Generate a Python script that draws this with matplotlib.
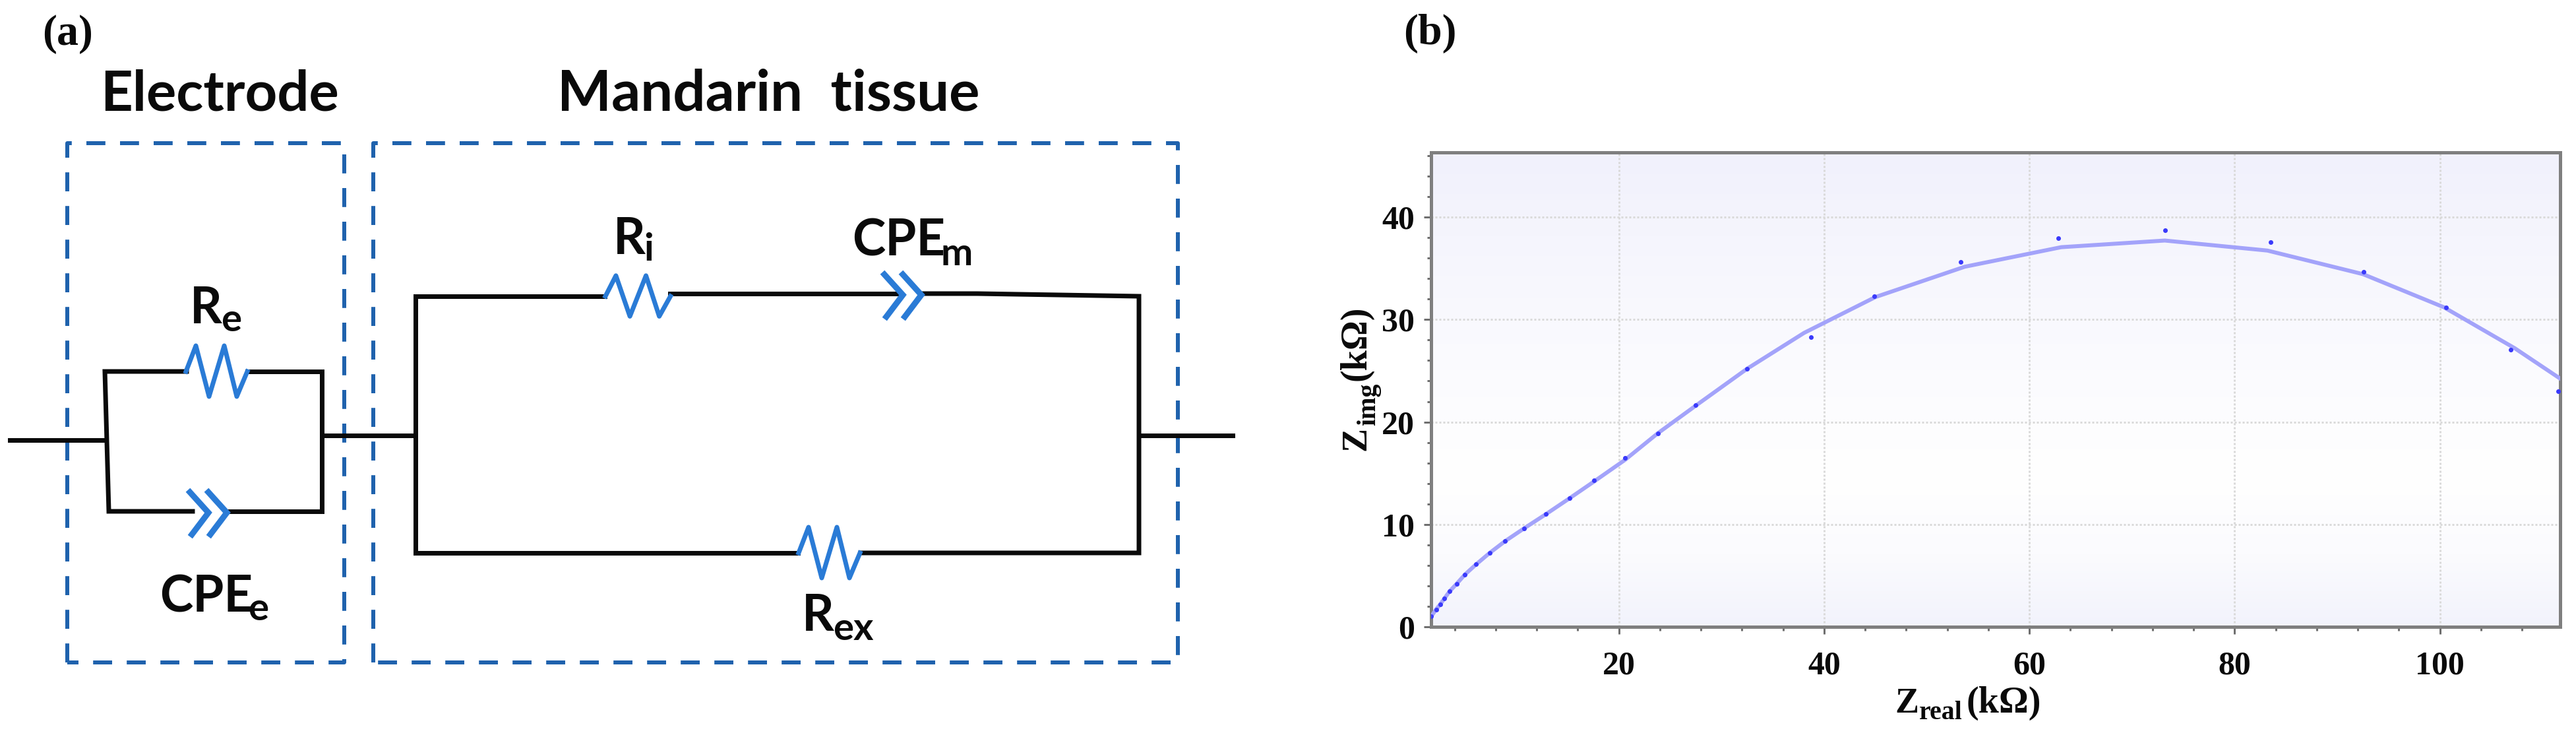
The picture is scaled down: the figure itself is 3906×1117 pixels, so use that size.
"""Equivalent circuit (a) and Nyquist plot (b) for mandarin tissue."""

import matplotlib

matplotlib.use("Agg")
import matplotlib.pyplot as plt
import numpy as np
from matplotlib.colors import LinearSegmentedColormap

WIDTH = 3906
HEIGHT = 1117

# measured points
z_real_points = [1.74, 2.2, 2.6, 3.0, 3.5, 4.2, 5.0, 6.1, 7.4, 8.9, 10.75, 12.9, 15.2, 17.6,
                 20.6, 23.8, 27.5, 32.5, 38.7, 44.9, 53.3, 62.8, 73.2, 83.5, 92.6, 100.6,
                 106.9, 111.5]
z_img_points = [1.05, 1.7, 2.2, 2.76, 3.45, 4.2, 5.1, 6.1, 7.2, 8.35, 9.6, 11.0, 12.55, 14.3,
                16.5, 18.9, 21.65, 25.2, 28.3, 32.3, 35.65, 37.96, 38.74, 37.56, 34.64, 31.2,
                27.08, 23.0]

# fitted curve
z_real_fit = [1.74, 2.2, 2.6, 3.0, 3.5, 4.2, 5.0, 6.1, 7.4, 8.9, 10.75, 12.9, 15.2, 17.6,
              20.6, 23.8, 27.5, 32.5, 38.05, 45.0, 53.7, 63.1, 73.2, 83.2, 92.5, 100.4,
              107.3, 111.7]
z_img_fit = [1.05, 1.7, 2.2, 2.76, 3.45, 4.2, 5.1, 6.1, 7.2, 8.35, 9.6, 11.0, 12.55, 14.2,
             16.3, 18.9, 21.6, 25.2, 28.7, 32.2, 35.16, 37.07, 37.72, 36.74, 34.44, 31.2,
             27.2, 24.25]

x_ticks = [20, 40, 60, 80, 100]
y_ticks = [0, 10, 20, 30, 40]
x_minor_ticks = [4, 8, 12, 16, 24, 28, 32, 36, 44, 48, 52, 56, 64, 68, 72, 76, 84, 88, 92, 96,
                 104, 108]
y_minor_ticks = [2, 4, 6, 8, 12, 14, 16, 18, 22, 24, 26, 28, 32, 34, 36, 38, 42, 44, 46]

BLACK = "#0a0a0a"
WIRE_BLUE = "#2a7bd6"
BOX_BLUE = "#1f62ad"
SANS = "Lato"
SERIF = "Liberation Serif"


def px(size):
    """Font size or line width in points from a size in pixels (dpi 100)."""
    return size * 0.72


def wire(ax, xs, ys):
    ax.plot(xs, ys, color=BLACK, lw=px(7), solid_capstyle="projecting",
            solid_joinstyle="miter", zorder=3)


def resistor(ax, x0, y0, scale_x=1.0, scale_y=1.0):
    steps_x = np.array([0, 15, 35, 58, 77, 93]) * scale_x
    steps_y = np.array([0, -39, 38, -39, 38, 0]) * scale_y
    ax.plot(x0 + steps_x, y0 + steps_y, color=WIRE_BLUE, lw=px(7), zorder=4)


def cpe(ax, tip_x, y0):
    # two chevrons pointing right
    for dx in (0, -28):
        ax.plot([tip_x + dx - 28, tip_x + dx, tip_x + dx - 25],
                [y0 - 31, y0, y0 + 33],
                color=WIRE_BLUE, lw=px(9), solid_joinstyle="miter", zorder=4)


def dashed_box(ax, left, right, top, bottom):
    ax.plot([left, left, right, right, left], [bottom, top, top, bottom, bottom],
            color=BOX_BLUE, lw=px(6), linestyle=(0, (4.8, 3.7)), zorder=2)


def label(ax, x, y, main, sub, sub_x, sub_y, size=76, sub_size=58):
    ax.text(x, y, main, family=SANS, weight="bold", fontsize=px(size), color=BLACK,
            ha="left", va="baseline", zorder=5)
    ax.text(sub_x, sub_y, sub, family=SANS, weight="bold", fontsize=px(sub_size), color=BLACK,
            ha="left", va="baseline", zorder=5)


def draw_circuit(ax):
    dashed_box(ax, 102, 522, 217, 1004)
    dashed_box(ax, 566, 1786, 217, 1004)

    # electrode branch
    wire(ax, [15, 158], [667, 667])
    wire(ax, [283, 159, 165, 292], [563, 563, 775, 775])
    wire(ax, [375, 488, 488, 344], [563, 563, 775, 775])
    resistor(ax, 282, 563)
    cpe(ax, 344, 777)

    # mandarin tissue branch
    wire(ax, [494, 630], [660, 660])
    wire(ax, [917, 630, 630, 1210], [449, 449, 838, 838])
    wire(ax, [1016, 1364], [445, 445])
    wire(ax, [1397, 1482, 1727, 1727, 1305], [445, 445, 449, 838, 838])
    wire(ax, [1727, 1869], [660, 660])
    resistor(ax, 918, 449, 1.06, 0.8)
    resistor(ax, 1211, 838)
    cpe(ax, 1397, 447)

    ax.text(152, 167, "Electrode", family=SANS, weight="bold", fontsize=px(85), color=BLACK,
            va="baseline", zorder=5)
    ax.text(845, 167, "Mandarin  tissue", family=SANS, weight="bold", fontsize=px(87),
            color=BLACK, va="baseline", zorder=5)
    label(ax, 288, 490, "R", "e", 335, 502)
    label(ax, 242, 927, "CPE", "e", 376, 940)
    label(ax, 930, 385, "R", "i", 976, 395)
    label(ax, 1292, 387, "CPE", "m", 1426, 402)
    label(ax, 1216, 956, "R", "ex", 1263, 970)


def draw_axis_labels(ax):
    ax.text(64, 68, "(a)", family=SERIF, weight="bold", fontsize=px(66), color=BLACK)
    ax.text(2128, 67, "(b)", family=SERIF, weight="bold", fontsize=px(66), color=BLACK)

    ax.text(2873, 1080, "Z", family=SERIF, weight="bold", fontsize=px(54), color=BLACK)
    ax.text(2910, 1090, "real", family=SERIF, weight="bold", fontsize=px(40), color=BLACK)
    ax.text(2982, 1080, "(k\u03a9)", family=SERIF, weight="bold", fontsize=px(56), color=BLACK)

    ax.text(2070, 683, "Z", family=SERIF, weight="bold", fontsize=px(54), color=BLACK,
            rotation=90, rotation_mode="anchor")
    ax.text(2085, 645, "img", family=SERIF, weight="bold", fontsize=px(40), color=BLACK,
            rotation=90, rotation_mode="anchor")
    ax.text(2070, 577, "(k\u03a9)", family=SERIF, weight="bold", fontsize=px(56), color=BLACK,
            rotation=90, rotation_mode="anchor")


def draw_nyquist(ax):
    shade = LinearSegmentedColormap.from_list(
        "shade", [(0.0, "#f1f1fc"), (0.35, "#f9f9fe"), (0.68, "#ffffff"), (0.85, "#fbfbfe"),
                  (1.0, "#f2f3fc")])
    ax.imshow(np.linspace(0, 1, 256).reshape(-1, 1), cmap=shade, aspect="auto",
              extent=(0, 1, 0, 1), transform=ax.transAxes, zorder=0)

    ax.plot(z_real_fit, z_img_fit, color="#a3a3fa", lw=px(6), zorder=3)
    ax.plot(z_real_points, z_img_points, linestyle="none", marker="o", ms=px(7),
            mfc="#3a3afb", mec="none", zorder=4)

    ax.set_xlim(1.71, 111.72)
    ax.set_ylim(0, 46.35)
    ax.set_xticks(x_ticks)
    ax.set_yticks(y_ticks)
    ax.set_xticks(x_minor_ticks, minor=True)
    ax.set_yticks(y_minor_ticks, minor=True)
    ax.grid(True, which="major", color="#dadada", lw=px(3), linestyle=(0, (1, 1)), zorder=1)
    ax.set_axisbelow(True)

    ax.tick_params(which="major", length=px(11), width=px(3), color="#6f6f6f")
    ax.tick_params(which="minor", length=px(6), width=px(3), color="#6f6f6f")
    ax.tick_params(axis="y", which="major", pad=px(14))
    ax.tick_params(axis="x", which="major", pad=px(26))
    for tick in ax.get_xticklabels() + ax.get_yticklabels():
        tick.set(family=SERIF, weight="bold", fontsize=px(50), color=BLACK)
    for spine in ax.spines.values():
        spine.set_color("#7f7f7f")
        spine.set_linewidth(px(5))


def main():
    fig = plt.figure(figsize=(WIDTH / 100, HEIGHT / 100), dpi=100, facecolor="white")

    canvas = fig.add_axes([0, 0, 1, 1])
    canvas.set_xlim(0, WIDTH)
    canvas.set_ylim(HEIGHT, 0)
    canvas.axis("off")
    draw_circuit(canvas)
    draw_axis_labels(canvas)

    nyquist = fig.add_axes([2170 / WIDTH, 1 - 950 / HEIGHT, (3882 - 2170) / WIDTH,
                            (950 - 230.6) / HEIGHT])
    draw_nyquist(nyquist)

    fig.savefig("out.png", dpi=100)


if __name__ == "__main__":
    main()
